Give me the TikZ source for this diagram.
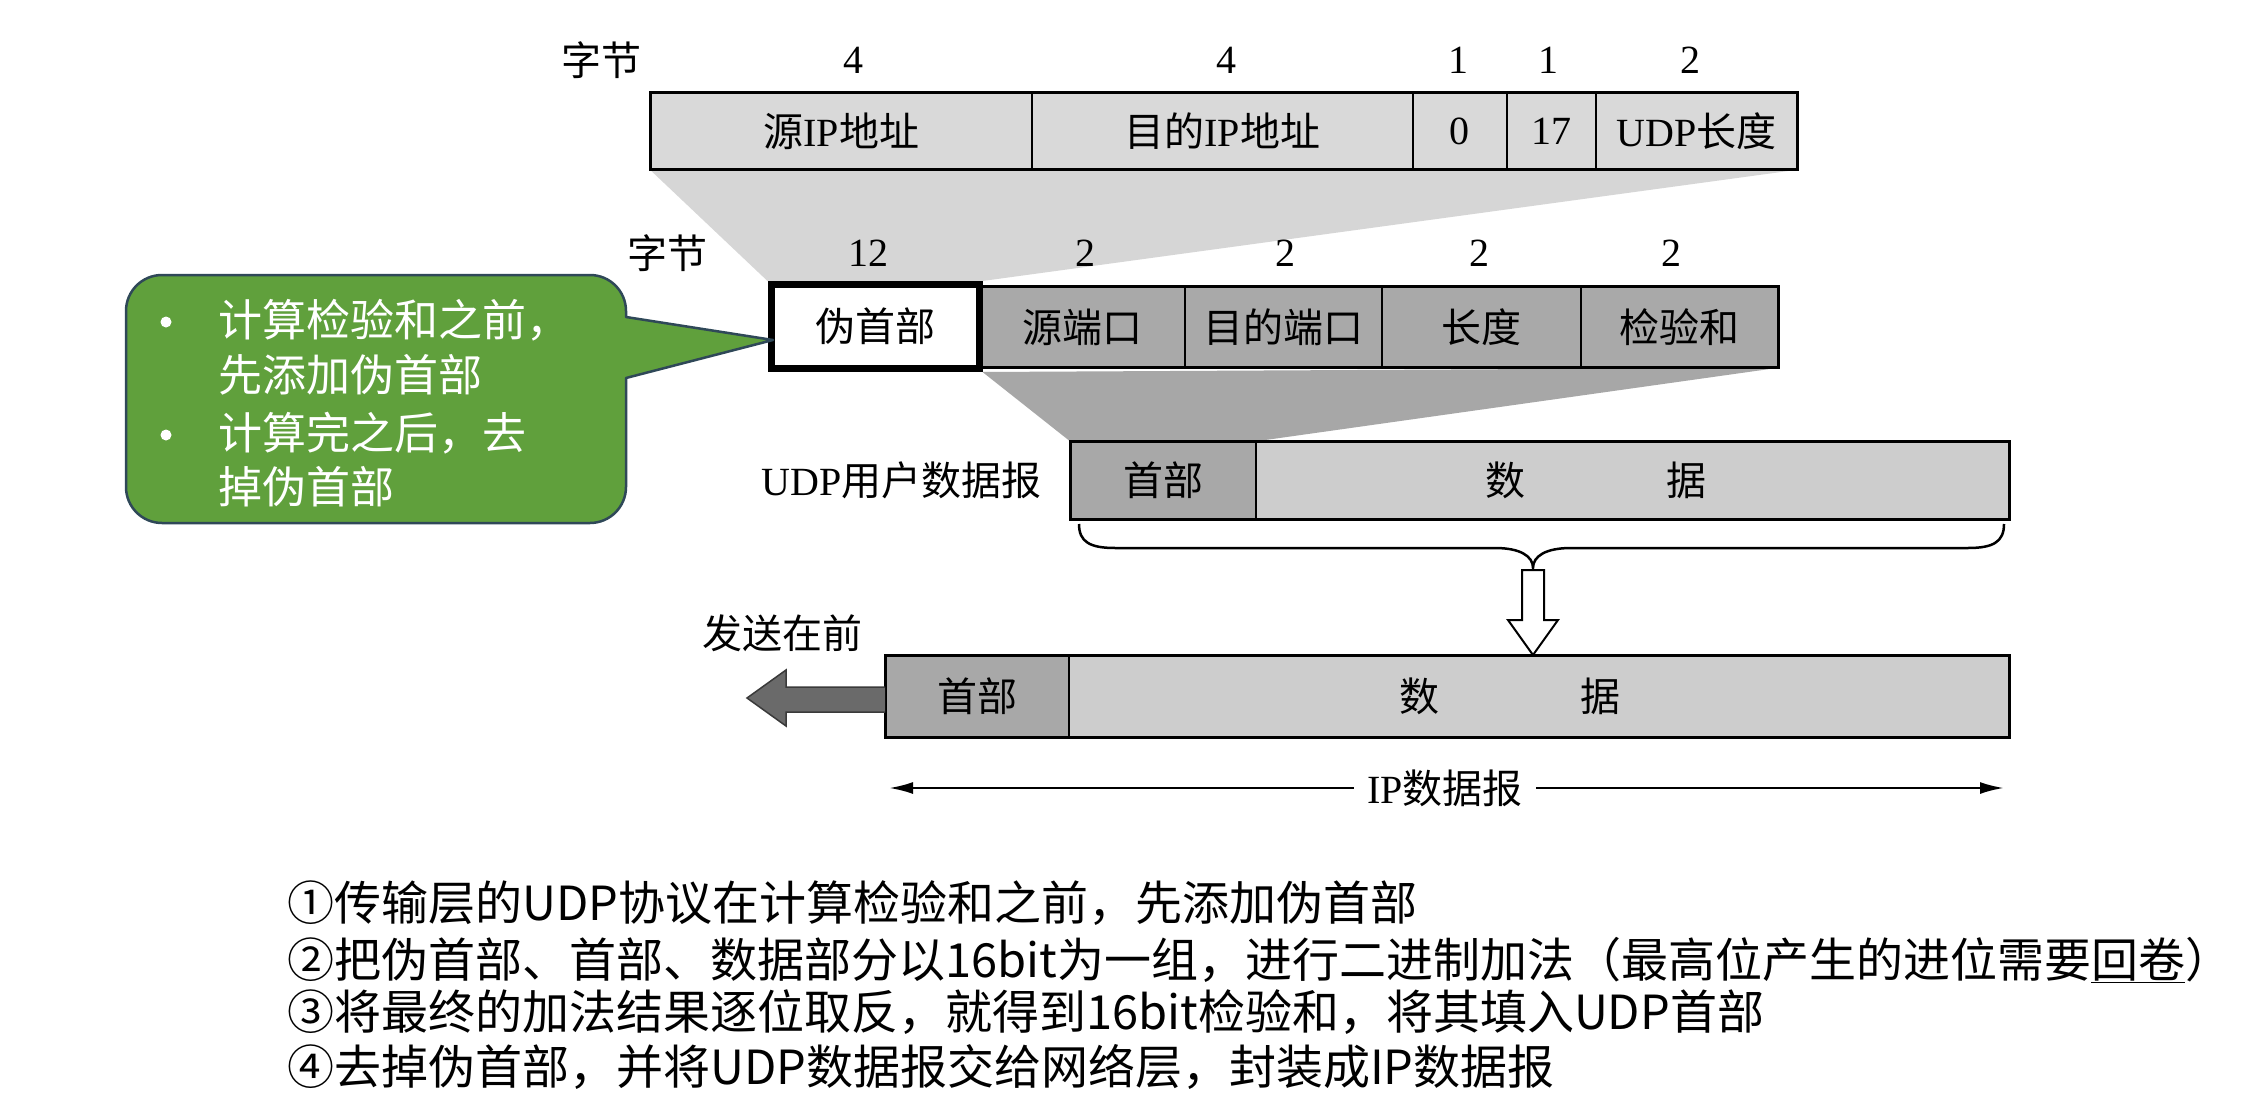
\documentclass[tikz,border=0pt]{standalone}
\usepackage{fontspec}
\setmainfont{Liberation Serif}
\newfontfamily\cjk{Noto Sans CJK SC}
\usetikzlibrary{arrows.meta,backgrounds}
\newcommand\zh[1]{{\cjk #1}}
\newcommand\lblfont{\fontsize{40}{44}\selectfont}
\definecolor{topfill}{HTML}{D9D9D9}
\definecolor{trapA}{HTML}{D6D6D6}
\definecolor{trapB}{HTML}{A7A7A7}
\definecolor{cellgray}{HTML}{A9A9A9}
\definecolor{hdrgray}{HTML}{A8A8A8}
\definecolor{datagray}{HTML}{CDCDCD}
\definecolor{arrowgray}{HTML}{6A6A6A}
\definecolor{arrowedge}{HTML}{3A3A3A}
\definecolor{callgreen}{HTML}{60A03C}
\definecolor{calledge}{HTML}{2F4858}
\tikzset{
  cell/.style={draw=black, line width=1.5pt, inner sep=0pt, font=\lblfont, anchor=west},
  lbl/.style={inner sep=0pt, font=\lblfont},
  outer/.style={draw=black, line width=3pt},
  ctext/.style={anchor=west, inner sep=0pt, text=white, font=\cjk\fontsize{44}{48}\selectfont},
  cbullet/.style={circle, fill=white, inner sep=0pt, minimum size=11pt},
  note/.style={anchor=west, inner sep=0pt, font=\cjk\fontsize{47}{52}\selectfont},
}
\begin{document}
\begin{tikzpicture}[x=1pt,y=-1pt]
\useasboundingbox (0,0) rectangle (2247,1113);

% ---------- top: pseudo header fields ----------
\node[lbl] (byteA) at (601,60) {\zh{字节}};
\node[lbl] (nA1) at (853,60) {4};
\node[lbl] (nA2) at (1226,60) {4};
\node[lbl] (nA3) at (1458,60) {1};
\node[lbl] (nA4) at (1548,60) {1};
\node[lbl] (nA5) at (1690,60) {2};

\node[cell, fill=topfill, minimum width=381pt, minimum height=76pt] (srcip) at (650,131) {\zh{源}IP\zh{地址}};
\node[cell, fill=topfill, minimum width=381pt, minimum height=76pt] (dstip) at (1031,131) {\zh{目的}IP\zh{地址}};
\node[cell, fill=topfill, minimum width=94pt, minimum height=76pt] (zero) at (1412,131) {0};
\node[cell, fill=topfill, minimum width=89pt, minimum height=76pt] (prot) at (1506,131) {17};
\node[cell, fill=topfill, minimum width=201pt, minimum height=76pt] (ulen) at (1595,131) {UDP\zh{长度}};
\draw[outer] (srcip.north west) rectangle (ulen.south east);

% ---------- second row: UDP header with pseudo header ----------
\node[lbl] (byteB) at (667,253) {\zh{字节}};
\node[lbl] (nB1) at (868,253) {12};
\node[lbl] (nB2) at (1085,253) {2};
\node[lbl] (nB3) at (1285,253) {2};
\node[lbl] (nB4) at (1479,253) {2};
\node[lbl] (nB5) at (1671,253) {2};

\node[cell, fill=cellgray, minimum width=205pt, minimum height=80pt] (sport) at (979,327) {\zh{源端口}};
\node[cell, fill=cellgray, minimum width=197pt, minimum height=80pt] (dport) at (1184,327) {\zh{目的端口}};
\node[cell, fill=cellgray, minimum width=199pt, minimum height=80pt] (len) at (1381,327) {\zh{长度}};
\node[cell, fill=cellgray, minimum width=197pt, minimum height=80pt] (csum) at (1580,327) {\zh{检验和}};
\draw[outer] (sport.north west) rectangle (csum.south east);
\node[cell, fill=white, line width=7pt, minimum width=208pt, minimum height=84pt] (pseudo) at (767.5,326.5) {\zh{伪首部}};

% ---------- UDP datagram ----------
\node[lbl, anchor=east] (ulabel) at (1042,480.5) {UDP\zh{用户数据报}};
\node[cell, fill=hdrgray, minimum width=185pt, minimum height=77pt] (uhdr) at (1070,480.5) {\zh{首部}};
\node[cell, fill=datagray, minimum width=753pt, minimum height=77pt] (udata) at (1255,480.5) {};
\node[lbl] (ud1) at (1505,480.5) {\zh{数}};
\node[lbl] (ud2) at (1686,480.5) {\zh{据}};
\draw[outer] (uhdr.north west) rectangle (udata.south east);

% ---------- IP datagram ----------
\node[cell, fill=hdrgray, minimum width=183pt, minimum height=81pt] (ihdr) at (885,696.5) {\zh{首部}};
\node[cell, fill=datagray, minimum width=940pt, minimum height=81pt] (idata) at (1068,696.5) {};
\node[lbl] (id1) at (1419,696.5) {\zh{数}};
\node[lbl] (id2) at (1600,696.5) {\zh{据}};
\draw[outer] (ihdr.north west) rectangle (idata.south east);

% ---------- background trapezoids ----------
\begin{scope}[on background layer]
\fill[white] (0,0) rectangle (2247,1113);
\fill[trapA] (srcip.south west) -- (ulen.south east) -- (pseudo.north east) -- (pseudo.north west) -- cycle;
\fill[trapB] (pseudo.south east) -- (csum.south east) -- (uhdr.north east) -- (uhdr.north west) -- cycle;
\end{scope}

% ---------- brace and hollow arrow ----------
\coordinate (bL) at (1079,524);
\coordinate (bR) at (2004,524);
\coordinate (btip) at (1533,568);
\draw[line width=2.5pt] (bL) .. controls (1079,542) and (1090,548) .. (1115,548) -- (1495,548)
  .. controls (1520,548) and (1533,556) .. (btip)
  .. controls (1533,556) and (1546,548) .. (1571,548) -- (1968,548)
  .. controls (1993,548) and (2004,542) .. (bR);
\draw[line width=2pt, fill=white] (1522,570) -- (1544,570) -- (1544,620) -- (1558,620) -- (1533,655) -- (1508,620) -- (1522,620) -- cycle;

% ---------- sending arrow ----------
\node[lbl] (send) at (782,633) {\zh{发送在前}};
\draw[fill=arrowgray, draw=arrowedge, line width=1.5pt] (885,687) -- (786,687) -- (786,670) -- (747,698) -- (786,726) -- (786,712) -- (885,712);

% ---------- IP datagram span ----------
\coordinate (ipl) at (889,788);
\coordinate (ipr) at (2004,788);
\draw[line width=2.5pt, {Latex[length=24pt,width=12pt]}-{Latex[length=24pt,width=12pt]}] (ipl) -- (ipr);
\node[lbl, fill=white, inner xsep=13pt] (iplbl) at (1445,788) {IP\zh{数据报}};

% ---------- green callout ----------
\coordinate (ctip) at (773,340);
\draw[fill=callgreen, draw=calledge, line width=2.5pt, line join=round]
  (ctip) -- (626,378) -- (626,487) arc[start angle=0, end angle=90, radius=36]
  -- (162,523) arc[start angle=90, end angle=180, radius=36]
  -- (126,311) arc[start angle=180, end angle=270, radius=36]
  -- (590,275) arc[start angle=270, end angle=360, radius=36]
  -- (626,317) -- cycle;
\node[cbullet] (bul1) at (166,322) {};
\node[ctext] (c1) at (218,320) {计算检验和之前，};
\node[ctext] (c2) at (218,375) {先添加伪首部};
\node[cbullet] (bul2) at (166,435) {};
\node[ctext] (c3) at (218,433) {计算完之后，去};
\node[ctext] (c4) at (218,487) {掉伪首部};

% ---------- bottom notes ----------
\node[note] (n1) at (287,903) {①传输层的UDP协议在计算检验和之前，先添加伪首部};
\node[note] (n2) at (287,960) {②把伪首部、首部、数据部分以16bit为一组，进行二进制加法（最高位产生的进位需要\underline{回卷}）};
\node[note] (n3) at (287,1012) {③将最终的加法结果逐位取反，就得到16bit检验和，将其填入UDP首部};
\node[note] (n4) at (287,1067) {④去掉伪首部，并将UDP数据报交给网络层，封装成IP数据报};
\end{tikzpicture}
\end{document}
